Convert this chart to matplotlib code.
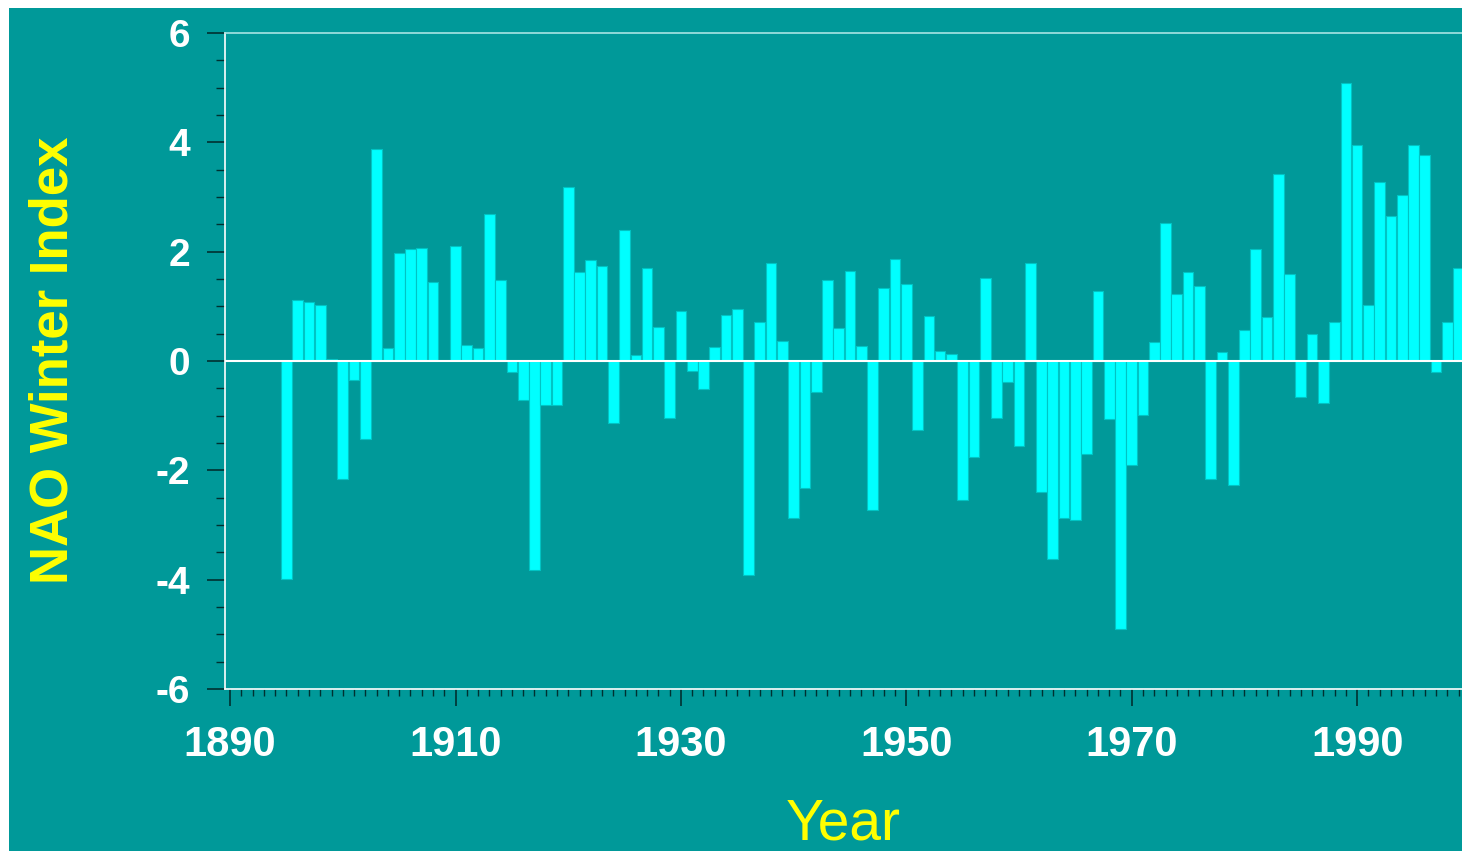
import numpy as np
import matplotlib
matplotlib.use("Agg")
import matplotlib.pyplot as plt
from matplotlib.patches import Rectangle
from matplotlib.ticker import MultipleLocator

plt.rcParams["axes.unicode_minus"] = False

years = np.arange(1895, 2000)
nao = [
    -3.98, 1.12, 1.08, 1.02, 0.03, -2.15, -0.35, -1.43, 3.88, 0.23,   # 1895-1904
    1.98, 2.05, 2.07, 1.44, 0.00, 2.10, 0.29, 0.24, 2.68, 1.48,       # 1905-1914
    -0.21, -0.71, -3.82, -0.81, -0.81, 3.18, 1.63, 1.85, 1.73, -1.14, # 1915-1924
    2.39, 0.11, 1.71, 0.63, -1.04, 0.91, -0.18, -0.52, 0.25, 0.85,    # 1925-1934
    0.96, -3.92, 0.71, 1.79, 0.37, -2.88, -2.32, -0.56, 1.48, 0.61,   # 1935-1944
    1.64, 0.28, -2.72, 1.34, 1.87, 1.40, -1.27, 0.83, 0.18, 0.13,     # 1945-1954
    -2.54, -1.75, 1.52, -1.04, -0.39, -1.55, 1.80, -2.39, -3.62, -2.88, # 1955-1964
    -2.90, -1.71, 1.28, -1.06, -4.90, -1.90, -0.98, 0.35, 2.52, 1.23, # 1965-1974
    1.63, 1.37, -2.15, 0.16, -2.27, 0.56, 2.04, 0.80, 3.42, 1.60,     # 1975-1984
    -0.65, 0.49, -0.76, 0.72, 5.08, 3.95, 1.02, 3.27, 2.66, 3.03,     # 1985-1994
    3.95, 3.77, -0.21, 0.72, 1.70,                                    # 1995-1999
]
year_ticks = [1890, 1910, 1930, 1950, 1970, 1990]
index_ticks = [-6, -4, -2, 0, 2, 4, 6]

teal = "#009999"
W, H = 1462, 851

fig = plt.figure(figsize=(W / 100, H / 100), dpi=100, facecolor="white")
# teal panel with a thin white margin on top and left
fig.patches.append(Rectangle((9 / W, 0), 1 - 9 / W, 1 - 8 / H,
                             transform=fig.transFigure, facecolor=teal,
                             edgecolor="none", zorder=-5))

ax = fig.add_axes([224.5 / W, 1 - 689 / H, 1 - 224.5 / W, (689 - 33) / H])
ax.set_facecolor(teal)

ax.bar(years, nao, width=0.95, color="#00FFFF", edgecolor="#00C4C4",
       linewidth=0.8, zorder=2)
ax.axhline(0, color="white", lw=1.5, zorder=3)

ax.set_xlim(1889.5, 1889.5 + (W - 224.5) / 11.27)
ax.set_ylim(-6, 6)

ax.set_xticks(year_ticks)
ax.xaxis.set_minor_locator(MultipleLocator(1))
ax.set_yticks(index_ticks)
ax.yaxis.set_minor_locator(MultipleLocator(0.5))

ax.tick_params(axis="y", which="major", direction="out", length=13, width=1.2,
               color="#003030", pad=12, labelsize=28, labelcolor="white")
ax.tick_params(axis="y", which="minor", direction="out", length=6.5, width=1,
               color="#003030")
ax.tick_params(axis="x", which="major", direction="out", length=12, width=1.2,
               color="#003030", pad=14, labelsize=30, labelcolor="white")
ax.tick_params(axis="x", which="minor", direction="out", length=5, width=1,
               color="#003030")
for lbl in ax.get_xticklabels() + ax.get_yticklabels():
    lbl.set_fontweight("bold")
    lbl.set_family("Liberation Sans")

ax.spines["right"].set_visible(False)
ax.spines["left"].set_color("white")
ax.spines["bottom"].set_color("white")
ax.spines["top"].set_color("#a8e4e4")
for s in ["left", "bottom", "top"]:
    ax.spines[s].set_linewidth(1.2)

fig.text(54 / W, 1 - 360 / H, "NAO Winter Index", rotation=90, color="#FFFF00",
         fontsize=38, fontweight="bold", family="Liberation Sans",
         ha="center", va="center")
fig.text(843 / W, 1 - 824 / H, "Year", color="#FFFF00", fontsize=41,
         family="Liberation Sans", ha="center", va="center")

fig.savefig("out.png", dpi=100, facecolor=fig.get_facecolor())
